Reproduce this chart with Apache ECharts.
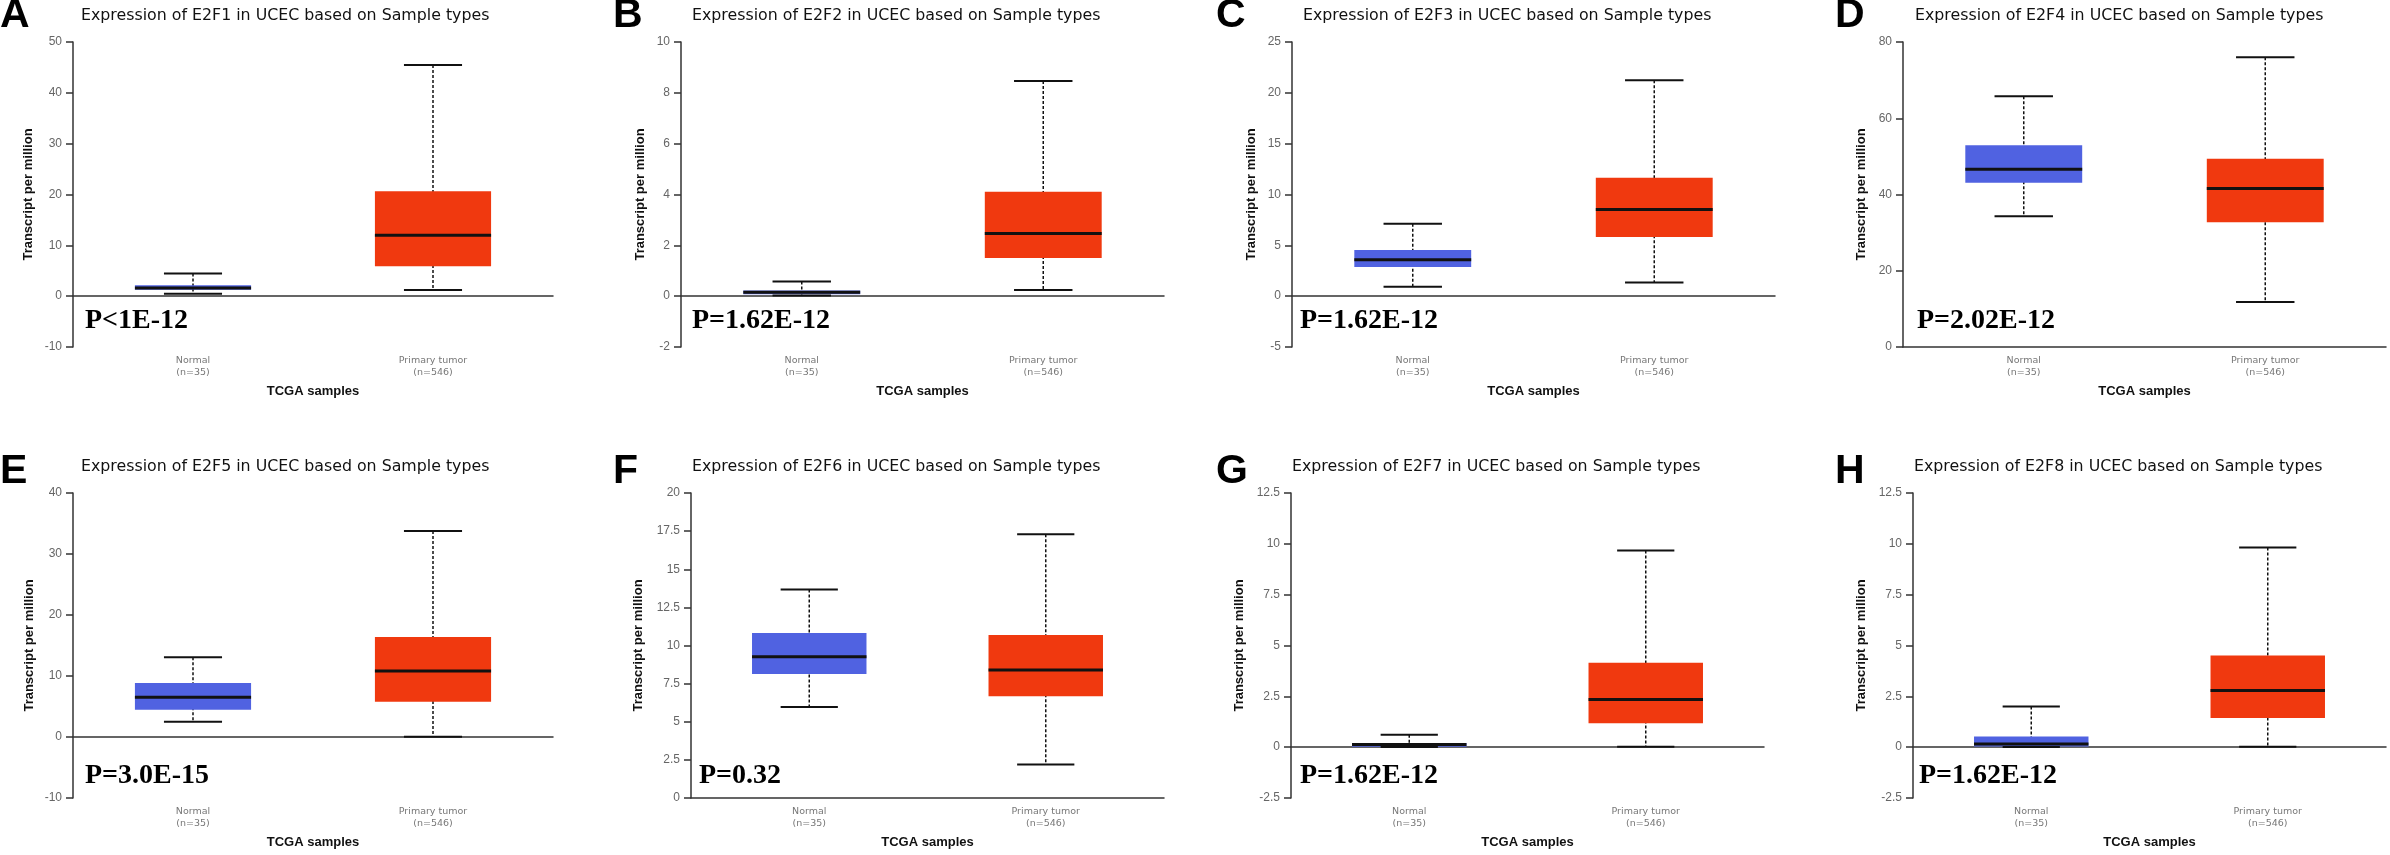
<!DOCTYPE html>
<html>
<head>
<meta charset="utf-8">
<title>E2F expression in UCEC</title>
<script src="https://cdn.jsdelivr.net/npm/echarts@6.0.0/dist/echarts.min.js"></script>
<style>
  html, body { margin: 0; padding: 0; background: #fff; }
  #chart { width: 2390px; height: 855px; }
</style>
</head>
<body>
<div id="chart"></div>
<script>
// ============================================================
// DATA
// stats are [min, Q1, median, Q3, max] in transcripts per million
// ============================================================

const categories = ['Normal\n(n=35)', 'Primary tumor\n(n=546)'];
const genes = ['E2F1', 'E2F2', 'E2F3', 'E2F4', 'E2F5', 'E2F6', 'E2F7', 'E2F8'];
const letters = ['A', 'B', 'C', 'D', 'E', 'F', 'G', 'H'];
const pValues = ['P<1E-12', 'P=1.62E-12', 'P=1.62E-12', 'P=2.02E-12',
                 'P=3.0E-15', 'P=0.32', 'P=1.62E-12', 'P=1.62E-12'];

const normalStats = [
  [0.5, 1.25, 1.6, 2.17, 4.46],
  [0.03, 0.08, 0.15, 0.22, 0.58],
  [0.92, 2.86, 3.58, 4.53, 7.12],
  [34.3, 43.06, 46.65, 52.95, 65.8],
  [2.51, 4.48, 6.5, 8.85, 13.06],
  [5.97, 8.13, 9.27, 10.82, 13.68],
  [0.01, 0.02, 0.13, 0.2, 0.61],
  [0.01, 0.03, 0.16, 0.52, 2.0]
];

const tumorStats = [
  [1.2, 5.9, 12.0, 20.65, 45.5],
  [0.24, 1.5, 2.47, 4.11, 8.47],
  [1.35, 5.81, 8.53, 11.65, 21.23],
  [11.8, 32.7, 41.6, 49.4, 76.0],
  [0.05, 5.79, 10.82, 16.39, 33.77],
  [2.19, 6.67, 8.39, 10.69, 17.29],
  [0.02, 1.18, 2.34, 4.15, 9.67],
  [0.02, 1.44, 2.79, 4.51, 9.82]
];

// y axis ticks per panel
const yMin = [-10, -2, -5, 0, -10, 0, -2.5, -2.5];
const yMax = [50, 10, 25, 80, 40, 20, 12.5, 12.5];
const yStep = [10, 2, 5, 20, 10, 2.5, 2.5, 2.5];


// ============================================================
// LAYOUT - pixel positions of each panel (not data)
// ============================================================

const gridLeft = [73, 681, 1292, 1903, 73, 691, 1291, 1913];
const gridRight = [553, 1164, 1775, 2386, 553, 1164, 1764, 2386];
const rowTop = [42, 493];
const plotHeight = 305;
const yNameGap = [38, 34.5, 34.5, 35, 37.5, 46, 45.5, 45.5];

const titleX = [81, 692, 1303, 1915, 81, 692, 1292, 1914];
const letterX = [0, 613, 1216, 1835, 0, 613, 1216, 1835];
const pTextX = [85, 692, 1300, 1917, 85, 699, 1300, 1919];

const titleY = [16, 467];
const letterY = [16, 472];
const pTextY = [321, 776];

const boxColors = ['#5062e1', '#f0390f'];


// ============================================================
// BOX RENDERER - custom series, positions come from api.coord
// ============================================================

function renderBoxItem(params, api) {
  const cat = api.value(0);
  const pMin = api.coord([cat, api.value(1)]);
  const pQ1 = api.coord([cat, api.value(2)]);
  const pMed = api.coord([cat, api.value(3)]);
  const pQ3 = api.coord([cat, api.value(4)]);
  const pMax = api.coord([cat, api.value(5)]);

  const band = api.size([1, 0])[0];
  const half = band * 0.484 / 2;
  const capHalf = half / 2;
  const cx = pMed[0];

  return {
    type: 'group',
    children: [
      {
        type: 'line',
        shape: { x1: cx, y1: pMax[1], x2: cx, y2: pMin[1] },
        style: { stroke: '#111', lineWidth: 1.5, lineDash: [3, 2] }
      },
      {
        type: 'rect',
        shape: { x: cx - half, y: pQ3[1], width: half * 2, height: pQ1[1] - pQ3[1] },
        style: { fill: boxColors[cat] }
      },
      {
        type: 'line',
        shape: { x1: cx - half, y1: pMed[1], x2: cx + half, y2: pMed[1] },
        style: { stroke: '#111', lineWidth: 3 }
      },
      {
        type: 'line',
        shape: { x1: cx - capHalf, y1: pMax[1], x2: cx + capHalf, y2: pMax[1] },
        style: { stroke: '#111', lineWidth: 2 }
      },
      {
        type: 'line',
        shape: { x1: cx - capHalf, y1: pMin[1], x2: cx + capHalf, y2: pMin[1] },
        style: { stroke: '#111', lineWidth: 2 }
      }
    ]
  };
}


// ============================================================
// BUILD ONE GRID + AXES + SERIES PER PANEL
// ============================================================

const grids = [];
const xAxes = [];
const yAxes = [];
const series = [];
const graphics = [];

genes.forEach(function(gene, i) {
  const row = i < 4 ? 0 : 1;

  grids.push({
    left: gridLeft[i],
    top: rowTop[row],
    width: gridRight[i] - gridLeft[i],
    height: plotHeight
  });

  xAxes.push({
    gridIndex: i,
    type: 'category',
    data: categories,
    axisTick: { show: false },
    axisLine: { lineStyle: { color: '#333', width: 1.5 } },
    axisLabel: {
      color: '#777',
      fontSize: 9.5,
      lineHeight: 12.5,
      margin: 7,
      fontFamily: 'DejaVu Sans'
    },
    name: 'TCGA samples',
    nameLocation: 'middle',
    nameGap: 38,
    nameTextStyle: {
      color: '#111',
      fontSize: 13,
      fontWeight: 'bold',
      fontFamily: 'Liberation Sans'
    }
  });

  yAxes.push({
    gridIndex: i,
    type: 'value',
    min: yMin[i],
    max: yMax[i],
    interval: yStep[i],
    splitLine: { show: false },
    axisLine: { show: true, lineStyle: { color: '#333', width: 1.5 } },
    axisTick: { show: true, length: 7, lineStyle: { color: '#333', width: 1.5 } },
    axisLabel: {
      color: '#666',
      fontSize: 12,
      margin: 11,
      fontFamily: 'Liberation Sans'
    },
    name: 'Transcript per million',
    nameLocation: 'middle',
    nameGap: yNameGap[i],
    nameTextStyle: {
      color: '#111',
      fontSize: 13,
      fontWeight: 'bold',
      fontFamily: 'Liberation Sans'
    }
  });

  series.push({
    type: 'custom',
    xAxisIndex: i,
    yAxisIndex: i,
    renderItem: renderBoxItem,
    encode: { x: 0, y: [1, 2, 3, 4, 5] },
    data: [
      [0].concat(normalStats[i]),
      [1].concat(tumorStats[i])
    ]
  });

  // panel letter, title and p value
  graphics.push({
    type: 'text',
    left: letterX[i],
    top: letterY[row] - 21,
    style: {
      text: letters[i],
      font: 'bold 41px "Liberation Sans"',
      fill: '#000'
    }
  });

  graphics.push({
    type: 'text',
    x: titleX[i],
    y: titleY[row],
    style: {
      text: 'Expression of ' + gene + ' in UCEC based on Sample types',
      font: '15.8px "DejaVu Sans"',
      fill: '#111',
      verticalAlign: 'middle'
    }
  });

  graphics.push({
    type: 'text',
    x: pTextX[i],
    y: pTextY[row],
    style: {
      text: pValues[i],
      font: 'bold 28px "Liberation Serif"',
      fill: '#000',
      verticalAlign: 'middle'
    }
  });
});


// ============================================================
// RENDER
// ============================================================

const chartInstance = echarts.init(document.getElementById('chart'));

chartInstance.setOption({
  animation: false,
  backgroundColor: '#fff',
  grid: grids,
  xAxis: xAxes,
  yAxis: yAxes,
  series: series,
  graphic: graphics
});
</script>
</body>
</html>
